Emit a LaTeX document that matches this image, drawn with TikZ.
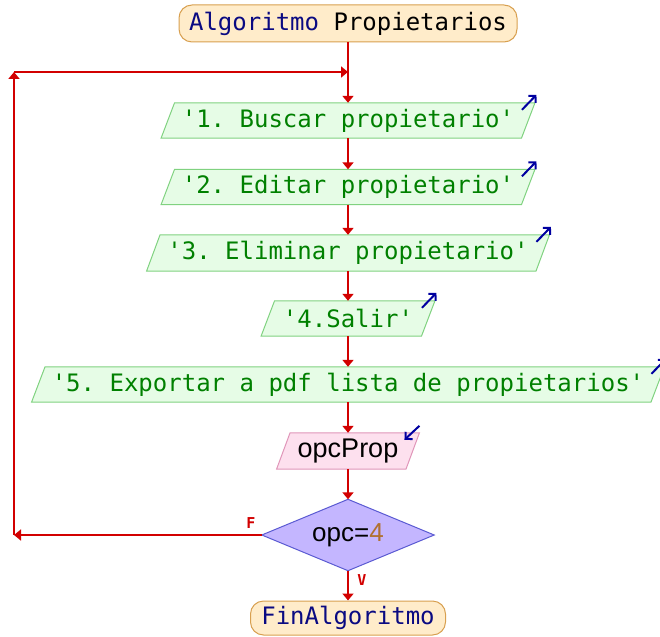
\documentclass[tikz,border=0pt]{standalone}
\usepackage{fontspec}
\setmonofont{DejaVu Sans Mono}
\newfontfamily\sansf{Liberation Sans}
\usetikzlibrary{arrows.meta,backgrounds}
\definecolor{kwblue}{RGB}{10,10,130}
\definecolor{termfill}{RGB}{255,236,202}
\definecolor{termdraw}{RGB}{216,160,80}
\definecolor{gtext}{RGB}{0,128,0}
\definecolor{gfill}{RGB}{230,252,230}
\definecolor{gdraw}{RGB}{128,210,128}
\definecolor{pfill}{RGB}{253,224,238}
\definecolor{pdraw}{RGB}{224,150,185}
\definecolor{dfill}{RGB}{196,182,255}
\definecolor{ddraw}{RGB}{90,90,210}
\definecolor{flowred}{RGB}{210,0,0}
\definecolor{arrblue}{RGB}{0,0,160}
\definecolor{numbrown}{RGB}{176,112,48}
\newcommand\pgramshape[3]{%
  \filldraw[fill=#2,draw=#3,line width=1pt] ([xshift=-6.75pt]#1.south west) -- ([xshift=6.75pt]#1.north west) -- ([xshift=6.75pt]#1.north east) -- ([xshift=-6.75pt]#1.south east) -- cycle;}
\newcommand\outarrow[1]{%
  \draw[bluearr] ([xshift=-6.25pt,yshift=-7pt]#1.north east) -- ([xshift=8.25pt,yshift=8pt]#1.north east);}
\begin{document}
\begin{tikzpicture}[x=1pt,y=-1pt,
  mono/.style={font=\ttfamily\fontsize{24}{28}\selectfont},
  txtbox/.style={mono,text=gtext,inner sep=0pt},
  term/.style={mono,inner sep=0pt,rounded corners=13pt,fill=termfill,draw=termdraw,line width=1pt},
  flow/.style={draw=flowred,line width=2.6pt,-{Triangle[length=7pt,width=11pt]}},
  bluearr/.style={draw=arrblue,line width=2pt,-{Straight Barb[length=5pt,width=10pt]}},
  lbl/.style={font=\ttfamily\bfseries\fontsize{15}{17}\selectfont,text=flowred,inner sep=0pt}]
\useasboundingbox (0,0) rectangle (660,636);

\node[term,minimum width=338pt,minimum height=37pt] (start) at (348,23.5) {\textcolor{kwblue}{Algoritmo} Propietarios};

\node[txtbox,minimum width=360pt,minimum height=35pt] (b1) at (348,120.5) {'1. Buscar propietario'};
\node[txtbox,minimum width=360pt,minimum height=35pt] (b2) at (348,187) {'2. Editar propietario'};
\node[txtbox,minimum width=389pt,minimum height=36pt] (b3) at (348,253) {'3. Eliminar propietario'};
\node[txtbox,minimum width=160pt,minimum height=35pt] (b4) at (348,318.5) {'4.Salir'};
\node[txtbox,minimum width=619pt,minimum height=35pt] (b5) at (348,384.5) {'5. Exportar a pdf lista de propietarios'};
\node[inner sep=0pt,minimum width=129pt,minimum height=36pt,font=\sansf\fontsize{27}{30}\selectfont] (opc) at (348,451) {opcProp};
\node[inner sep=0pt,minimum width=172pt,minimum height=71pt,font=\sansf\fontsize{26}{30}\selectfont] (dia) at (348,535) {opc=\textcolor{numbrown}{4}};
\node[term,minimum width=195pt,minimum height=34pt] (fin) at (348,618) {\textcolor{kwblue}{FinAlgoritmo}};

\begin{scope}[on background layer]
  \pgramshape{b1}{gfill}{gdraw}
  \pgramshape{b2}{gfill}{gdraw}
  \pgramshape{b3}{gfill}{gdraw}
  \pgramshape{b4}{gfill}{gdraw}
  \pgramshape{b5}{gfill}{gdraw}
  \pgramshape{opc}{pfill}{pdraw}
  \filldraw[fill=dfill,draw=ddraw,line width=1pt] (dia.north) -- (dia.east) -- (dia.south) -- (dia.west) -- cycle;
\end{scope}

\outarrow{b1}
\outarrow{b2}
\outarrow{b3}
\outarrow{b4}
\outarrow{b5}
\draw[bluearr] ([xshift=6.75pt,yshift=7pt]opc.north east) -- ([xshift=-8.25pt,yshift=-7pt]opc.north east);

\coordinate (lb) at (14,535);
\coordinate (lt) at (14,72);
\coordinate (jn) at (348,72);

\draw[flow] (start.south) -- (b1.north);
\draw[flow] (b1.south) -- (b2.north);
\draw[flow] (b2.south) -- (b3.north);
\draw[flow] (b3.south) -- (b4.north);
\draw[flow] (b4.south) -- (b5.north);
\draw[flow] (b5.south) -- (opc.north);
\draw[flow] (opc.south) -- (dia.north);
\draw[flow] (dia.south) -- (fin.north);
\draw[flow] (dia.west) -- (lb);
\draw[flow] (lb) -- (lt);
\draw[flow] (lt) -- (jn);

\node[lbl] (lf) at (251,523) {F};
\node[lbl] (lv) at (362,580) {V};
\end{tikzpicture}
\end{document}
